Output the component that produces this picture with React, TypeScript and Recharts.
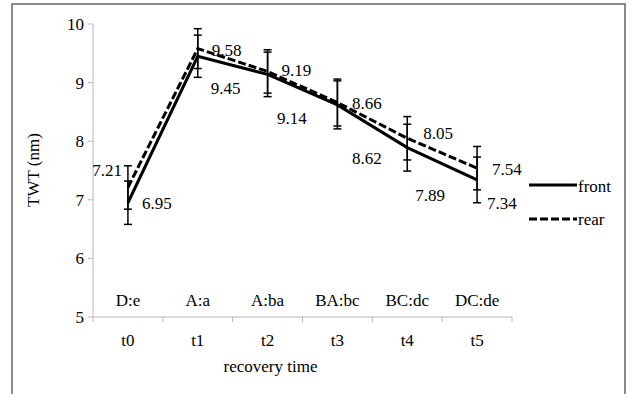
import { ErrorBar, LabelList, Line, LineChart, XAxis, YAxis } from 'recharts';

const times = ['t0', 't1', 't2', 't3', 't4', 't5'];
const letters = ['D:e', 'A:a', 'A:ba', 'BA:bc', 'BC:dc', 'DC:de'];
const front = [6.95, 9.45, 9.14, 8.62, 7.89, 7.34];
const rear = [7.21, 9.58, 9.19, 8.66, 8.05, 7.54];
const frontErr = [0.37, 0.36, 0.38, 0.41, 0.4, 0.39];
const rearErr = [0.37, 0.34, 0.37, 0.4, 0.37, 0.37];
const yTicks = [5, 6, 7, 8, 9, 10];

const data = times.map((t, i) => ({
  idx: i,
  time: t,
  front: front[i],
  rear: rear[i],
  frontErr: frontErr[i],
  rearErr: rearErr[i],
}));

// x ticks: band edges + band centres
const xTicks = [-0.5, ...times.flatMap((_, i) => [i, i + 0.5])];

const FONT = '"Liberation Serif", "Times New Roman", serif';
const GRAY = '#b8b8b8';

// label placement (dx, dy from point to text centre)
const rearPos = [
  [-6, -17.5, 'end'],
  [14, 1.5, 'start'],
  [14, -1.5, 'start'],
  [14.5, 0.5, 'start'],
  [16, -5, 'start'],
  [15, 1, 'start'],
];
const frontPos = [
  [14, 0, 'start'],
  [13, 32, 'start'],
  [9.5, 44, 'start'],
  [14.5, 53, 'start'],
  [8, 47, 'start'],
  [10, 23, 'start'],
];

const makeLabel = (pos: any[]) => (props: any) => {
  const { x, y, value, index } = props;
  const [dx, dy, anchor] = pos[index];
  return (
    <text x={x + dx} y={y + dy + 6} textAnchor={anchor} fontSize={17} fontFamily={FONT} fill='#000'>
      {value.toFixed(2)}
    </text>
  );
};

const XTick = (props: any) => {
  const { x, y, payload } = props;
  const v = payload.value;
  if (!Number.isInteger(v)) {
    return <line x1={x} x2={x} y1={y} y2={y + 5} stroke={GRAY} strokeWidth={1} />;
  }
  return (
    <g>
      <text x={x} y={y - 11} textAnchor='middle' fontSize={17} fontFamily={FONT} fill='#000'>
        {letters[v]}
      </text>
      <text x={x} y={y + 29} textAnchor='middle' fontSize={17} fontFamily={FONT} fill='#000'>
        {times[v]}
      </text>
    </g>
  );
};

const LegendBox = () => (
  <svg width={100} height={56} style={{ position: 'absolute', left: 528, top: 176 }}>
    <line x1={1} x2={49} y1={9} y2={9} stroke='#000' strokeWidth={3} />
    <text x={50} y={16} fontSize={17} fontFamily={FONT} fill='#000'>
      front
    </text>
    <line x1={1} x2={49} y1={43} y2={43} stroke='#000' strokeWidth={3} strokeDasharray='8 3' />
    <text x={50} y={49} fontSize={17} fontFamily={FONT} fill='#000'>
      rear
    </text>
  </svg>
);

export default function App() {
  return (
    <div style={{ position: 'absolute', left: 0, top: 0, width: 630, height: 394, overflow: 'hidden', background: '#fff' }}>
      <div
        style={{
          position: 'absolute',
          left: 11,
          top: 3,
          width: 615,
          height: 430,
          border: '2px solid #8c8c8c',
          boxSizing: 'border-box',
        }}
      />
      <div style={{ position: 'absolute', left: 0, top: 0 }}>
        <LineChart width={630} height={394} data={data} margin={{ top: 24, right: 118, bottom: 27, left: 0 }}>
          <XAxis
            dataKey='idx'
            type='number'
            domain={[-0.5, 5.5]}
            ticks={xTicks}
            interval={0}
            height={50}
            tickSize={0}
            tickMargin={0}
            tickLine={false}
            axisLine={{ stroke: GRAY }}
            tick={<XTick />}
            label={{
              content: (p: any) => (
                <text
                  x={p.viewBox.x + p.viewBox.width / 2 - 32}
                  y={p.viewBox.y + 55}
                  textAnchor='middle'
                  fontSize={17}
                  fontFamily={FONT}
                  fill='#000'
                >
                  recovery time
                </text>
              ),
            }}
          />
          <YAxis
            width={93}
            domain={[5, 10]}
            ticks={yTicks}
            interval={0}
            tickSize={5}
            tickMargin={4}
            axisLine={{ stroke: GRAY }}
            tickLine={{ stroke: GRAY }}
            tick={{ fontSize: 17, fontFamily: FONT, fill: '#000' }}
            label={{
              content: () => (
                <text
                  x={33}
                  y={170}
                  transform='rotate(-90 33 170)'
                  textAnchor='middle'
                  dominantBaseline='central'
                  fontSize={17}
                  fontFamily={FONT}
                  fill='#000'
                >
                  TWT (nm)
                </text>
              ),
            }}
          />
          <Line dataKey='front' stroke='#000' strokeWidth={3} dot={false} isAnimationActive={false}>
            <ErrorBar dataKey='frontErr' direction='y' width={4} stroke='#000' strokeWidth={1.5} />
            <LabelList dataKey='front' content={makeLabel(frontPos)} />
          </Line>
          <Line
            dataKey='rear'
            stroke='#000'
            strokeWidth={3}
            strokeDasharray='8 3'
            dot={false}
            isAnimationActive={false}
          >
            <ErrorBar dataKey='rearErr' direction='y' width={4} stroke='#000' strokeWidth={1.5} />
            <LabelList dataKey='rear' content={makeLabel(rearPos)} />
          </Line>
        </LineChart>
      </div>
      <LegendBox />
    </div>
  );
}
